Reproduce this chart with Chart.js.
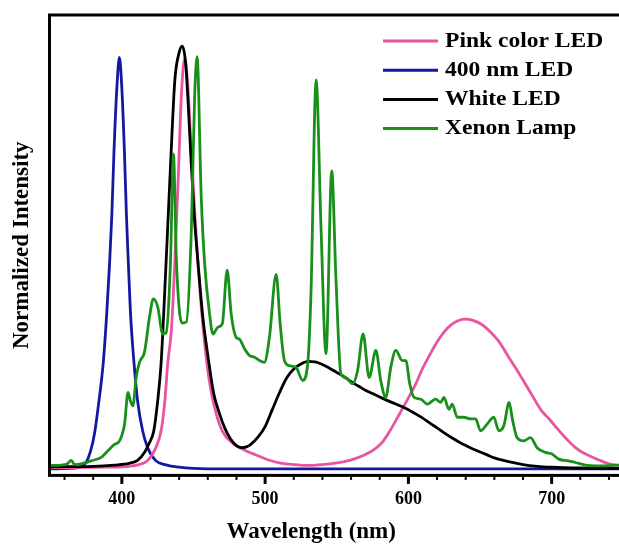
<!DOCTYPE html>
<html>
<head>
<meta charset="utf-8">
<script src="https://cdn.jsdelivr.net/npm/chart.js@4"></script>
<style>
  html, body { margin: 0; padding: 0; background: #fff; overflow: hidden; }
  #wrap { width: 619px; height: 544px; }
</style>
</head>
<body>
<div id="wrap"><canvas id="spectra" width="619" height="544"></canvas></div>
<script>
// Spectra (wavelength in nm, normalized intensity)
const pinkNm = [350, 390, 405, 412, 418, 423, 427.4, 430, 432, 434.6, 437, 439.5, 441.5, 443.9, 446, 448.5, 451, 453.1, 456, 459.4, 462.5, 465.9, 470, 477.5, 485, 491.4, 500, 510, 520, 530, 540, 550, 559, 570, 577, 582, 588, 593.5, 600, 605, 610, 615, 620, 625, 630, 635, 640, 645, 651, 656, 663, 670, 675, 680, 686, 693, 698, 704, 710, 716, 721, 727, 733, 740, 750];
const pinkVal = [0.003, 0.004, 0.006, 0.01, 0.02, 0.045, 0.09, 0.16, 0.248, 0.33, 0.49, 0.7, 0.88, 0.971, 0.91, 0.75, 0.6, 0.487, 0.36, 0.248, 0.18, 0.13, 0.09, 0.06, 0.045, 0.036, 0.024, 0.014, 0.01, 0.008, 0.01, 0.014, 0.02, 0.034, 0.048, 0.064, 0.095, 0.128, 0.168, 0.2, 0.238, 0.27, 0.3, 0.324, 0.341, 0.351, 0.354, 0.351, 0.342, 0.328, 0.302, 0.264, 0.238, 0.21, 0.176, 0.137, 0.119, 0.095, 0.072, 0.052, 0.04, 0.03, 0.021, 0.012, 0.007];

const blueNm = [350, 370, 375, 378, 381, 384, 387, 389.5, 391.5, 393, 394.5, 396.5, 398.3, 400, 401.8, 403.2, 404.5, 406, 408.5, 411, 414.5, 418, 423.5, 430, 440, 450, 460, 750];
const blueVal = [0, 0.003, 0.015, 0.04, 0.085, 0.16, 0.25, 0.37, 0.49, 0.6, 0.75, 0.9, 0.973, 0.9, 0.75, 0.6, 0.49, 0.37, 0.25, 0.16, 0.09, 0.05, 0.02, 0.01, 0.004, 0.001, 0, 0];

const whiteNm = [350, 380, 395, 405, 411, 416, 419, 422.3, 425, 427.4, 430.9, 434, 437, 440, 442.2, 444.5, 446.5, 448, 450.5, 453.1, 456.5, 460.8, 464, 468.2, 472, 476, 480, 483.5, 487, 490, 495, 500, 505, 510, 515, 520, 525, 530, 535, 540, 545, 550, 555, 560, 565, 570, 575, 580, 585, 590, 595, 600, 605, 610, 615, 620, 625, 630, 635, 640, 645, 650, 655, 660, 665, 670, 680, 690, 700, 720, 750];
const whiteVal = [0.005, 0.006, 0.009, 0.013, 0.02, 0.04, 0.06, 0.09, 0.16, 0.25, 0.49, 0.72, 0.92, 0.985, 1.0, 0.96, 0.85, 0.75, 0.6, 0.49, 0.36, 0.25, 0.18, 0.13, 0.095, 0.07, 0.055, 0.05, 0.052, 0.058, 0.075, 0.1, 0.14, 0.18, 0.215, 0.236, 0.248, 0.254, 0.253, 0.247, 0.238, 0.228, 0.218, 0.206, 0.196, 0.186, 0.178, 0.17, 0.162, 0.155, 0.148, 0.14, 0.13, 0.12, 0.108, 0.097, 0.085, 0.074, 0.064, 0.055, 0.047, 0.04, 0.033, 0.026, 0.021, 0.017, 0.01, 0.006, 0.004, 0.002, 0.001];

const xenonNm = [350, 358, 362, 364.7, 367, 371.7, 378.6, 385.6, 390.3, 394.9, 398.4, 401.9, 404.3, 406, 407.7, 410, 412.3, 415.8, 419.3, 422, 425.1, 428.5, 430.9, 433.9, 436, 438, 440, 442, 445, 448.5, 450.8, 452.5, 455.4, 457.8, 461.2, 463.6, 467, 470.1, 473.5, 476.3, 479.8, 482.1, 485.6, 489.1, 492.6, 496.1, 499.5, 503, 507.7, 510.5, 513.5, 516.9, 521.6, 526.2, 529.7, 532, 535.6, 539, 542.5, 546.5, 549.4, 552.9, 556.4, 561, 564.5, 568.4, 572.6, 577.3, 580.7, 584.2, 587.7, 591.2, 595.8, 598.2, 601, 603.9, 608.6, 613.2, 619, 622.5, 624.8, 628.3, 630.6, 634.1, 638.7, 643.4, 646.9, 650.4, 655, 659.6, 663.1, 666.6, 670.3, 672.8, 675.8, 680.5, 685.2, 689.8, 695.6, 700.2, 704.9, 711.8, 716.5, 723.5, 730.4, 739.7, 746, 750];
const xenonVal = [0.008, 0.009, 0.012, 0.02, 0.01, 0.012, 0.019, 0.027, 0.043, 0.058, 0.066, 0.106, 0.181, 0.16, 0.149, 0.216, 0.252, 0.276, 0.359, 0.402, 0.382, 0.319, 0.322, 0.485, 0.745, 0.5, 0.38, 0.345, 0.347, 0.564, 0.88, 0.975, 0.643, 0.485, 0.367, 0.319, 0.335, 0.343, 0.47, 0.367, 0.311, 0.307, 0.284, 0.268, 0.264, 0.256, 0.252, 0.311, 0.46, 0.343, 0.256, 0.244, 0.24, 0.209, 0.248, 0.414, 0.92, 0.572, 0.272, 0.705, 0.453, 0.224, 0.216, 0.201, 0.232, 0.319, 0.216, 0.28, 0.209, 0.169, 0.24, 0.28, 0.256, 0.256, 0.2, 0.169, 0.165, 0.153, 0.165, 0.157, 0.169, 0.141, 0.153, 0.122, 0.122, 0.118, 0.118, 0.09, 0.106, 0.122, 0.09, 0.102, 0.157, 0.114, 0.074, 0.066, 0.074, 0.05, 0.039, 0.035, 0.023, 0.019, 0.015, 0.009, 0.007, 0.007, 0.009, 0.009];

const seriesNames = ['Pink color LED', '400 nm LED', 'White LED', 'Xenon Lamp'];
const seriesColors = ['#e9559f', '#1418a0', '#000000', '#18901a'];
const drawOrder = [2, 3, 1, 0]; // xenon on top
const xMajorTicks = [400, 500, 600, 700];
const xMinorTicks = [360, 380, 420, 440, 460, 480, 520, 540, 560, 580, 620, 640, 660, 680, 720, 740];

const serifFont = '"Liberation Serif", "Times New Roman", serif';

function toPoints(xs, ys) {
    return xs.map((x, i) => ({ x: x, y: ys[i] }));
}

// frame (right side runs off the picture) + outward ticks on the bottom axis
const frameTicks = {
    id: 'frameTicks',
    afterDraw(chart) {
        const ctx = chart.ctx;
        const a = chart.chartArea;
        const xs = chart.scales.x;
        ctx.save();
        ctx.strokeStyle = '#000';
        ctx.lineWidth = 3;
        ctx.strokeRect(a.left, a.top, a.right + 4 - a.left, a.bottom - a.top);
        xMinorTicks.forEach(v => {
            const px = xs.getPixelForValue(v);
            ctx.lineWidth = 2;
            ctx.beginPath();
            ctx.moveTo(px, a.bottom);
            ctx.lineTo(px, a.bottom + 4.5);
            ctx.stroke();
        });
        xMajorTicks.forEach(v => {
            const px = xs.getPixelForValue(v);
            ctx.lineWidth = 3;
            ctx.beginPath();
            ctx.moveTo(px, a.bottom);
            ctx.lineTo(px, a.bottom + 8.5);
            ctx.stroke();
        });
        ctx.restore();
    }
};

// legend drawn inside the plot, top right
const insideLegend = {
    id: 'insideLegend',
    afterDraw(chart) {
        const ctx = chart.ctx;
        ctx.save();
        ctx.font = 'bold 22px ' + serifFont;
        ctx.textBaseline = 'middle';
        ctx.fillStyle = '#000';
        chart.data.datasets.forEach((ds, i) => {
            const y = 41 + i * 29.2;
            ctx.strokeStyle = ds.borderColor;
            ctx.lineWidth = 3;
            ctx.beginPath();
            ctx.moveTo(383, y);
            ctx.lineTo(438, y);
            ctx.stroke();
            ctx.save();
            ctx.translate(445, y);
            ctx.scale(1.07, 1);
            ctx.fillText(ds.label, 0, 0);
            ctx.restore();
        });
        ctx.restore();
    }
};

const ctx = document.getElementById('spectra').getContext('2d');
const chart = new Chart(ctx, {
    type: 'line',
    data: {
        datasets: [
            { label: seriesNames[0], data: toPoints(pinkNm, pinkVal), borderColor: seriesColors[0], order: drawOrder[0] },
            { label: seriesNames[1], data: toPoints(blueNm, blueVal), borderColor: seriesColors[1], order: drawOrder[1] },
            { label: seriesNames[2], data: toPoints(whiteNm, whiteVal), borderColor: seriesColors[2], order: drawOrder[2] },
            { label: seriesNames[3], data: toPoints(xenonNm, xenonVal), borderColor: seriesColors[3], order: drawOrder[3] }
        ]
    },
    options: {
        responsive: false,
        animation: false,
        layout: { padding: { left: 5, right: 0, top: 15, bottom: 0 } },
        elements: {
            point: { radius: 0 },
            line: { borderWidth: 2.8, cubicInterpolationMode: 'monotone', fill: false }
        },
        plugins: {
            legend: { display: false },
            tooltip: { enabled: false }
        },
        scales: {
            x: {
                type: 'linear',
                min: 349.5,
                max: 747,
                afterBuildTicks: scale => {
                    scale.ticks = xMajorTicks.map(v => ({ value: v }));
                },
                grid: { display: false, drawTicks: true, tickLength: 13 },
                border: { display: false },
                ticks: {
                    autoSkip: false,
                    maxRotation: 0,
                    padding: 0,
                    color: '#000',
                    font: { family: serifFont, size: 18, weight: 'bold' }
                },
                title: {
                    display: true,
                    // trailing spaces pull the centred title left, as in the figure
                    text: 'Wavelength (nm)        ',
                    color: '#000',
                    font: { family: serifFont, size: 23, weight: 'bold', lineHeight: 1 },
                    padding: { top: 11, bottom: 0 }
                }
            },
            y: {
                min: -0.0155,
                max: 1.0735,
                grid: { display: false, drawTicks: false },
                border: { display: false },
                ticks: { display: false },
                title: {
                    display: true,
                    text: 'Normalized Intensity',
                    color: '#000',
                    font: { family: serifFont, size: 23, weight: 'bold', lineHeight: 1 },
                    padding: { top: 5.5, bottom: 16 }
                }
            }
        }
    },
    plugins: [frameTicks, insideLegend]
});
</script>
</body>
</html>
